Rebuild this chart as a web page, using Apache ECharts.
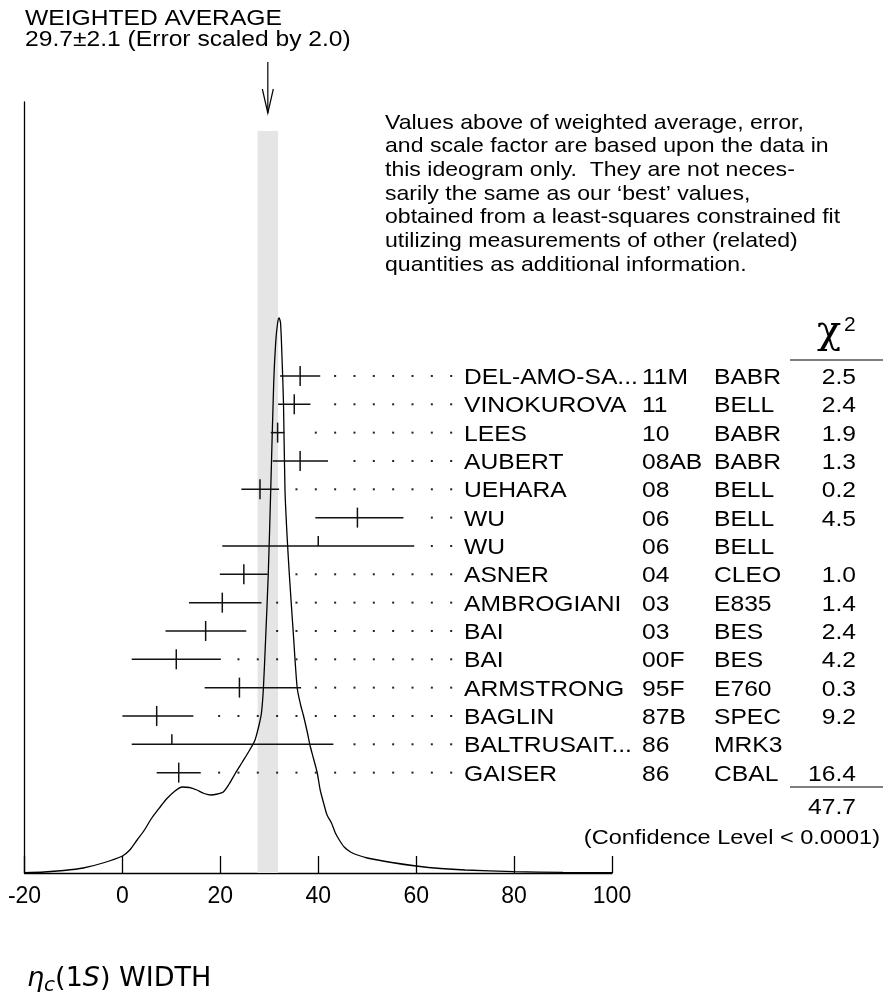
<!DOCTYPE html>
<html>
<head>
<meta charset="utf-8">
<script src="https://cdn.jsdelivr.net/npm/echarts/dist/echarts.min.js"></script>
<style>html,body{margin:0;padding:0;background:#fff}#c{width:883px;height:998px}</style>
</head>
<body>
<div id="c"></div>
<script>
// ---- data ----
const names = ['DEL-AMO-SA...','VINOKUROVA','LEES','AUBERT','UEHARA','WU','WU','ASNER','AMBROGIANI','BAI','BAI','ARMSTRONG','BAGLIN','BALTRUSAIT...','GAISER'];
const years = ['11M','11','10','08AB','08','06','06','04','03','03','00F','95F','87B','86','86'];
const exps  = ['BABR','BELL','BABR','BABR','BELL','BELL','BELL','CLEO','E835','BES','BES','E760','SPEC','MRK3','CBAL'];
const chi2  = ['2.5','2.4','1.9','1.3','0.2','4.5','','1.0','1.4','2.4','4.2','0.3','9.2','','16.4'];
const values  = [36.3, 35.1, 31.7, 36.3, 28.1, 48.0, 40.0, 24.8, 20.4, 17.0, 11.0, 23.9, 7.0, 10.1, 11.5];
const errLow  = [4.1, 3.3, 1.4, 5.6, 3.8, 8.6, 19.6, 4.9, 6.8, 8.2, 9.1, 7.1, 7.0, 8.2, 4.5];
const errHigh = [4.1, 3.3, 1.4, 5.7, 3.9, 9.4, 19.6, 4.9, 8.0, 8.3, 9.1, 12.6, 7.5, 33.0, 4.5];
const used    = [1,1,1,1,1,1,0,1,1,1,1,1,1,0,1];
const xTicks  = [-20, 0, 20, 40, 60, 80, 100];
const avgValue = 29.7, avgError = 2.1;
const chi2Total = '47.7';
// ideogram curve (x value, height)
const curveX = [-20,-16,-12,-8,-4,0,1.5,3,4.5,6,7.7,9,10.5,12.2,13.7,15.2,16.7,18.1,19.4,20.6,21.8,23.1,24.5,26,27,27.5,28,28.4,28.8,29.3,29.8,30.3,30.9,31.3,31.7,32.0,32.3,32.6,32.9,33.2,33.6,34.1,34.9,35.7,36.4,37.0,37.8,38.3,39.0,39.8,40.4,41.2,41.8,42.7,43.5,44.3,45.3,46.6,48,50,55,60,65,70,80,90,100];
const curveH = [0.4,1,2.5,5,10,17,23,33,43,55,66,74,81,86,85.5,83,79.5,78,79,81,89,100,111,123,132,140,150,160,185,240,300,384,490,530,550,555,550,515,470,384,340,298,240,185,168,157,140,128,115,100,83,68,58,50,40,33,26,21,18,15,10.5,7,4.5,3,1.3,0.6,0.3];
const noteLines = [
  'Values above of weighted average, error,',
  'and scale factor are based upon the data in',
  'this ideogram only.  They are not neces-',
  'sarily the same as our \u2018best\u2019 values,',
  'obtained from a least-squares constrained fit',
  'utilizing measurements of other (related)',
  'quantities as additional information.'
];

// ---- layout / style ----
const FONT = '"Liberation Sans", Arial, Helvetica, sans-serif';
const SX = 1.12;
const INK = '#000';
const dotStart = 0, dotStep = 3.95, dotEnd = 67.5;

const chart = echarts.init(document.getElementById('c'));

const rowData = names.map((n, i) => [i, values[i], values[i] - errLow[i], values[i] + errHigh[i], used[i]]);
const curveData = curveX.map((x, i) => [x, curveH[i]]);

function txt(x, y, text, size, align, extra) {
  return Object.assign({
    type: 'text', x: x, y: y, scaleX: SX, silent: true,
    style: { text: text, x: 0, y: 0, align: align || 'left', verticalAlign: 'middle',
      fontSize: size, fontFamily: FONT, fill: INK }
  }, extra || {});
}

const graphics = [
  txt(25, 19, 'WEIGHTED AVERAGE', 22),
  txt(25, 40, avgValue.toFixed(1) + '\u00b1' + avgError.toFixed(1) + ' (Error scaled by 2.0)', 22),
  { type: 'text', x: 829, y: 333, silent: true,
    style: { text: '\u03c7', x: 0, y: 0, align: 'center', verticalAlign: 'middle', fontSize: 40,
      fontFamily: '"DejaVu Serif", serif', fill: INK } },
  { type: 'text', x: 844, y: 325, silent: true,
    style: { text: '2', x: 0, y: 0, align: 'left', verticalAlign: 'middle', fontSize: 21, fontFamily: FONT, fill: INK } },
  { type: 'line', silent: true, shape: { x1: 790, y1: 360, x2: 883, y2: 360 }, style: { stroke: '#555', lineWidth: 1.5 } },
  { type: 'line', silent: true, shape: { x1: 790, y1: 787, x2: 883, y2: 787 }, style: { stroke: '#555', lineWidth: 1.5 } },
  txt(856, 808, chi2Total, 22, 'right'),
  txt(880, 838, '(Confidence Level < 0.0001)', 21, 'right'),
  { type: 'text', x: 27, y: 979, silent: true,
    style: {
      text: '{e|\u03b7}{s|c}{n|(1}{e|S}{n|) WIDTH}', x: 0, y: 0, align: 'left', verticalAlign: 'middle',
      fontFamily: '"DejaVu Sans", sans-serif', fill: INK,
      rich: {
        e: { fontSize: 27, fontStyle: 'italic', fontFamily: '"DejaVu Sans", sans-serif', lineHeight: 34, fill: INK },
        n: { fontSize: 27, fontFamily: '"DejaVu Sans", sans-serif', lineHeight: 34, fill: INK },
        s: { fontSize: 20, fontStyle: 'italic', fontFamily: '"DejaVu Sans", sans-serif', lineHeight: 20, verticalAlign: 'bottom', fill: INK }
      }
    } }
];
noteLines.forEach((l, i) => graphics.push(txt(385, 123 + i * 23.7, l, 20.6)));

const option = {
  animation: false,
  backgroundColor: '#fff',
  grid: [
    { left: 24.5, right: 271, top: 102, bottom: 125, containLabel: false, outerBoundsMode: 'none' },
    { left: 24.5, right: 271, top: 361.8, bottom: 211.2, containLabel: false, outerBoundsMode: 'none' }
  ],
  xAxis: [
    { gridIndex: 0, type: 'value', min: xTicks[0], max: xTicks[xTicks.length - 1], interval: xTicks[1] - xTicks[0],
      axisLine: { show: true, onZero: false, lineStyle: { color: INK, width: 1.3 } },
      axisTick: { show: true, inside: true, length: 17, lineStyle: { color: INK, width: 1.3 } },
      axisLabel: { show: true, color: INK, fontSize: 23, fontFamily: FONT, margin: 12,
        showMinLabel: true, showMaxLabel: true, alignMinLabel: 'center', alignMaxLabel: 'center',
        formatter: v => String(v) },
      splitLine: { show: false } },
    { gridIndex: 1, type: 'value', min: xTicks[0], max: xTicks[xTicks.length - 1], show: false }
  ],
  yAxis: [
    { gridIndex: 0, type: 'value', min: 0, max: 771,
      axisLine: { show: true, onZero: false, lineStyle: { color: INK, width: 1.3 } },
      axisTick: { show: false }, axisLabel: { show: false }, splitLine: { show: false } },
    { gridIndex: 1, type: 'value', min: -0.5, max: names.length - 0.5, inverse: true, show: false }
  ],
  graphic: graphics,
  series: [
    { // weighted average band
      type: 'custom', xAxisIndex: 0, yAxisIndex: 0, z: 1, silent: true,
      data: [[avgValue - avgError, avgValue + avgError]],
      encode: { x: [0, 1] },
      renderItem: function (params, api) {
        const p1 = api.coord([api.value(0), 0]);
        const p2 = api.coord([api.value(1), 742]);
        return { type: 'rect', shape: { x: p1[0], y: p2[1], width: p2[0] - p1[0], height: p1[1] - p2[1] },
          style: { fill: '#e5e5e5' } };
      }
    },
    { // arrow
      type: 'custom', xAxisIndex: 0, yAxisIndex: 0, z: 5, silent: true,
      data: [[avgValue]], encode: { x: 0 },
      renderItem: function (params, api) {
        const x = api.coord([api.value(0), 0])[0];
        return { type: 'group', children: [
          { type: 'line', shape: { x1: x, y1: 62, x2: x, y2: 113 }, style: { stroke: INK, lineWidth: 1.2 } },
          { type: 'polyline', shape: { points: [[x - 5.5, 89], [x, 113], [x + 5.5, 89]] }, style: { stroke: INK, lineWidth: 1.2, fill: null } }
        ] };
      }
    },
    { // ideogram curve
      type: 'line', xAxisIndex: 0, yAxisIndex: 0, z: 3, silent: true,
      data: curveData, symbol: 'none', smooth: 0.25,
      lineStyle: { color: INK, width: 1.3 }
    },
    { // measurements with error bars and leader dots
      type: 'custom', xAxisIndex: 1, yAxisIndex: 1, z: 4, silent: true,
      data: rowData, encode: { x: [1, 2, 3], y: 0 },
      renderItem: function (params, api) {
        const row = api.value(0), v = api.value(1), lo = api.value(2), hi = api.value(3), u = api.value(4);
        const pv = api.coord([v, row]), pl = api.coord([lo, row]), ph = api.coord([hi, row]);
        const y = pv[1];
        const st = { stroke: '#111', lineWidth: 1.5 };
        const ch = [
          { type: 'line', shape: { x1: pl[0], y1: y, x2: ph[0], y2: y }, style: st },
          { type: 'line', shape: { x1: pv[0], y1: y - 10, x2: pv[0], y2: u ? y + 10 : y }, style: st }
        ];
        for (let d = dotStart; d <= dotEnd + 1e-6; d += dotStep) {
          const px = api.coord([d, row])[0];
          if (px > ph[0] + 13) ch.push({ type: 'rect', shape: { x: px - 1, y: y - 1, width: 2, height: 2 }, style: { fill: '#222' } });
        }
        return { type: 'group', children: ch };
      }
    },
    { // table text
      type: 'custom', xAxisIndex: 1, yAxisIndex: 1, z: 6, silent: true,
      data: names.map((n, i) => [0, i]), encode: { x: 0, y: 1 },
      renderItem: function (params, api) {
        const i = api.value(1);
        const y = api.coord([0, i])[1] + 2;
        return { type: 'group', children: [
          txt(464, y, names[i], 22),
          txt(642, y, years[i], 22),
          txt(714, y, exps[i], 22),
          txt(856, y, chi2[i], 22, 'right')
        ] };
      }
    }
  ]
};
chart.setOption(option);
</script>
</body>
</html>
